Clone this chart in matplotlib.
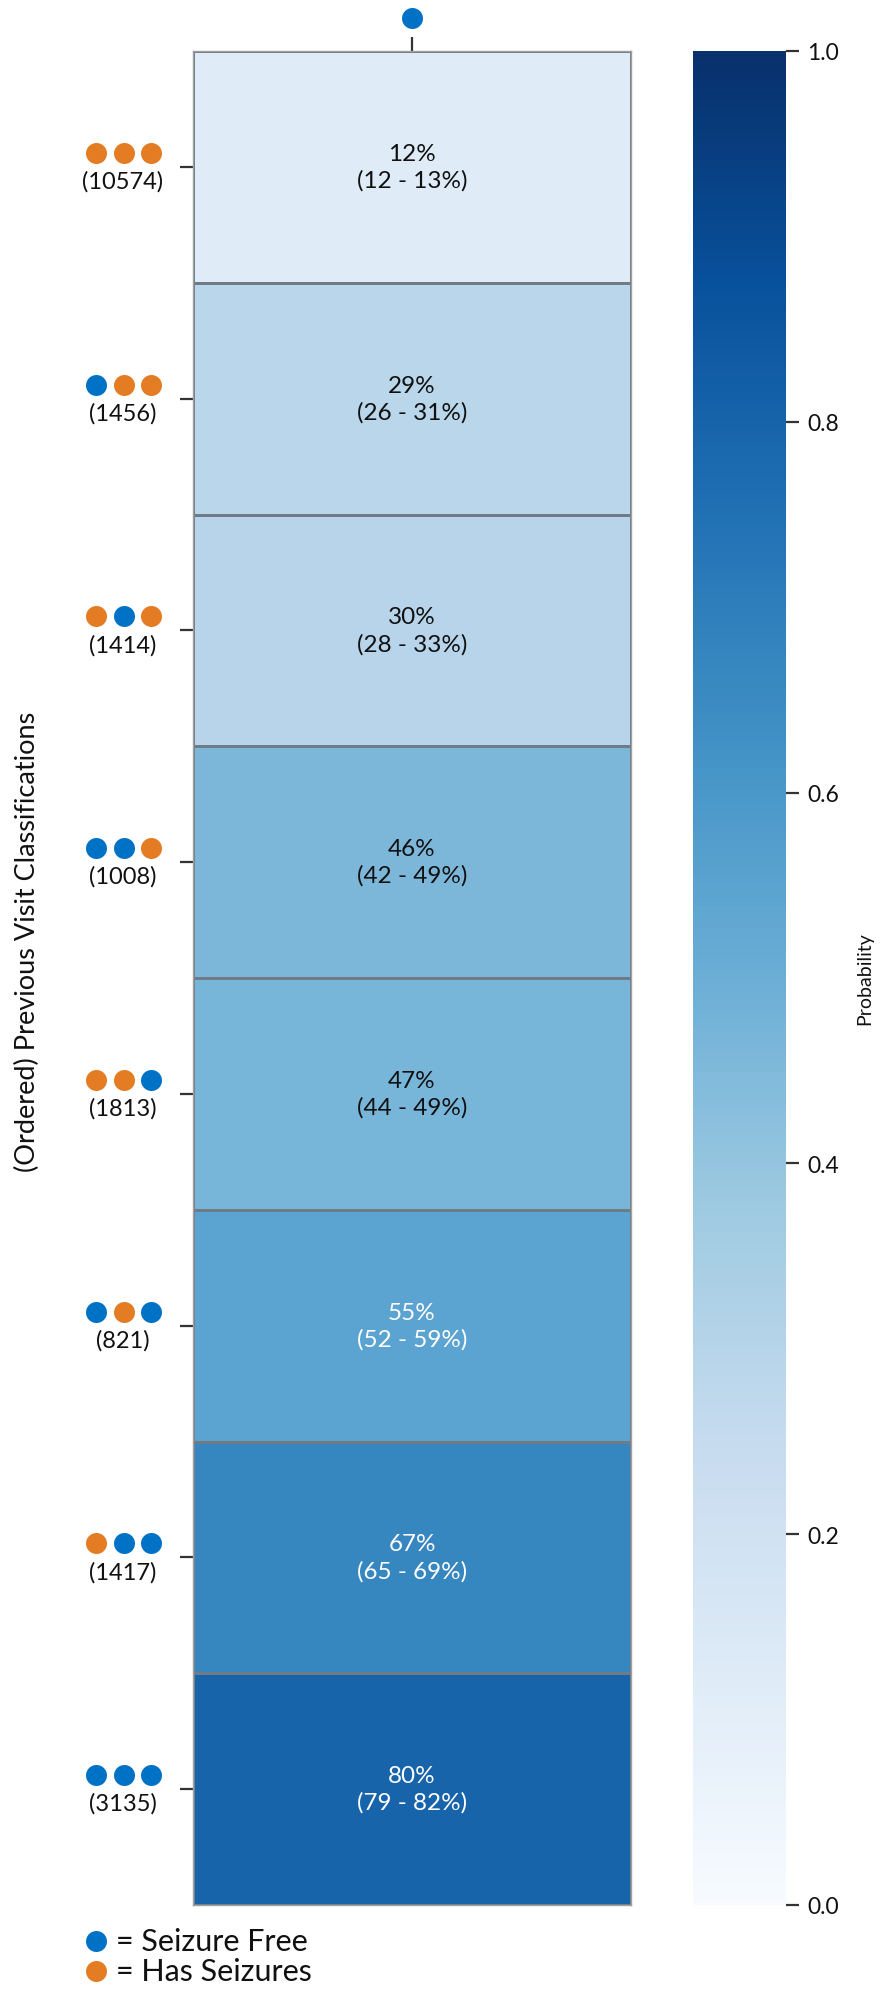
import matplotlib
matplotlib.use("Agg")
import matplotlib.pyplot as plt
import matplotlib.transforms as mtransforms
from matplotlib.lines import Line2D
import numpy as np

plt.rcParams['font.family'] = ['Lato', 'DejaVu Sans']

# ordered previous visit classifications (F = seizure free, S = has seizures)
sequences = ['SSS', 'FSS', 'SFS', 'FFS', 'SSF', 'FSF', 'SFF', 'FFF']
counts = [10574, 1456, 1414, 1008, 1813, 821, 1417, 3135]
prob = [0.12, 0.29, 0.30, 0.46, 0.47, 0.55, 0.67, 0.80]
ci_low = [12, 26, 28, 42, 44, 52, 65, 79]
ci_high = [13, 31, 33, 49, 49, 59, 69, 82]

BLUE = '#0072C6'
ORANGE = '#E37C22'
dot_color = {'F': BLUE, 'S': ORANGE}


def rel_lum(rgb):
    rgb = np.asarray(rgb[:3])
    rgb = np.where(rgb <= .03928, rgb / 12.92, ((rgb + .055) / 1.055) ** 2.4)
    return rgb.dot([.2126, .7152, .0722])


W, H = 886, 1990
fig = plt.figure(figsize=(W / 100, H / 100), dpi=100)

# main heatmap
ax = fig.add_axes([193 / W, 84 / H, 438 / W, 1854 / H])
cax = fig.add_axes([693 / W, 84 / H, 93 / W, 1854 / H])

cmap = plt.get_cmap('Blues')
data = np.array(prob).reshape(-1, 1)
mesh = ax.pcolormesh(data, cmap=cmap, vmin=0, vmax=1,
                     edgecolors='#6f7b86', linewidth=0.8)
ax.set_xlim(0, 1)
ax.set_ylim(len(prob), 0)

for i, p in enumerate(prob):
    col = 'white' if rel_lum(cmap(p)) < .408 else '#111111'
    ax.text(0.5, i + 0.5, f"{int(round(p * 100))}%\n({ci_low[i]} - {ci_high[i]}%)",
            ha='center', va='center', fontsize=17.5, color=col, linespacing=1.3)

for s in ax.spines.values():
    s.set_color('#a0a0a0')
    s.set_linewidth(1.0)

# y ticks: one per row, labels built from dots + counts
ax.set_yticks(np.arange(len(prob)) + 0.5)
ax.set_yticklabels([])
ax.tick_params(axis='y', length=9.5, width=1.6, color='#333333')
ax.set_xticks([0.5])
ax.set_xticklabels([])
ax.tick_params(axis='x', top=True, bottom=False, labeltop=False, labelbottom=False,
               length=10, width=1.6, color='#333333')

px = 72 / 100  # points per pixel
for i, seq in enumerate(sequences):
    for j, c in enumerate(seq):
        tr = ax.transData + mtransforms.ScaledTranslation(
            (-97 + 27.5 * j) / 100, 14 / 100, fig.dpi_scale_trans)
        ax.plot([0], [i + 0.5], 'o', ms=21 * px, color=dot_color[c],
                mec='none', transform=tr, clip_on=False)
    tr = ax.transData + mtransforms.ScaledTranslation(-70 / 100, -14 / 100, fig.dpi_scale_trans)
    ax.text(0, i + 0.5, f"({counts[i]})", ha='center', va='center', fontsize=17,
            color='#111111', transform=tr)

# dot above the single column
ax.plot([0.5], [0], 'o', ms=21 * px, color=BLUE, mec='none', clip_on=False,
        transform=ax.transData + mtransforms.ScaledTranslation(0, 33 / 100, fig.dpi_scale_trans))

fig.text(27 / W, 1 - 942 / H, '(Ordered) Previous Visit Classifications', rotation=90,
         ha='center', va='center', fontsize=19.5, color='#111111')

# colour bar
cb = fig.colorbar(mesh, cax=cax, ticks=[0, 0.2, 0.4, 0.6, 0.8, 1.0])
cb.outline.set_visible(False)
cb.ax.tick_params(length=9.5, width=1.6, color='#333333', labelsize=16.5,
                  labelcolor='#111111', pad=6)
cb.ax.set_yticklabels([f"{t:.1f}" for t in [0, 0.2, 0.4, 0.6, 0.8, 1.0]])
cb.set_label('Probability', fontsize=14, color='#111111', labelpad=12)

# key
for y, c, lab in [(1942, BLUE, '= Seizure Free'), (1972, ORANGE, '= Has Seizures')]:
    fig.add_artist(Line2D([96 / W], [1 - y / H], marker='o', ms=21 * px, color=c,
                          mec='none', transform=fig.transFigure))
    fig.text(116 / W, 1 - y / H, lab, ha='left', va='center', fontsize=22, color='#111111')

fig.savefig('out.png', dpi=100)
